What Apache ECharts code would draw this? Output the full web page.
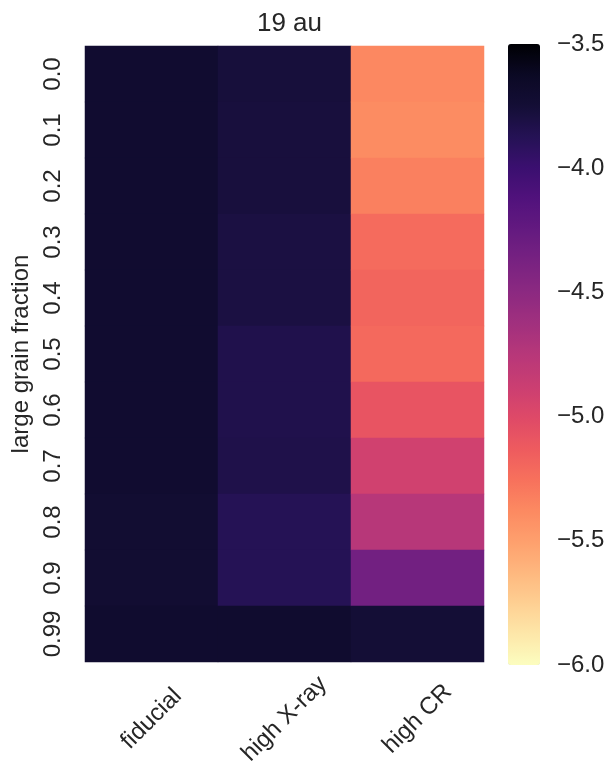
<!DOCTYPE html>
<html><head><meta charset="utf-8">
<script src="https://cdn.jsdelivr.net/npm/echarts@6/dist/echarts.min.js"></script>
<style>html,body{margin:0;padding:0;background:#fff}#c{width:611px;height:775px}</style>
</head><body><div id="c"></div>
<script>
const models = ['fiducial', 'high X-ray', 'high CR'];
const fractions = ['0.0', '0.1', '0.2', '0.3', '0.4', '0.5', '0.6', '0.7', '0.8', '0.9', '0.99'];
const fiducial = [-3.71, -3.71, -3.71, -3.71, -3.71, -3.71, -3.71, -3.71, -3.72, -3.72, -3.70];
const highXray = [-3.77, -3.78, -3.78, -3.80, -3.80, -3.84, -3.84, -3.83, -3.875, -3.875, -3.70];
const highCR   = [-5.37, -5.39, -5.33, -5.22, -5.19, -5.21, -5.08, -4.91, -4.75, -4.34, -3.75];
const colorTicks = [-6.0, -5.5, -5.0, -4.5, -4.0, -3.5];
const vMin = -6.0, vMax = -3.5;
const magma = ['#000004','#0b0924','#140e36','#251255','#3b0f70','#51127c','#641a80','#782281','#8c2981','#a1307e','#b73779','#ca3e72','#de4968','#ed5a5f','#f7705c','#fc8961','#fe9f6d','#feb77e','#fecf92','#fde7a9','#fcfdbf'];

const columns = [fiducial, highXray, highCR];
const cells = [];
columns.forEach((col, xi) => col.forEach((v, yi) => cells.push([xi, yi, v])));

const FONT = 'Liberation Sans, Arial, sans-serif';
const TXT = '#262626';
const L = 85, R = 484, T = 46, H = 616;
const CT = 44, CB = 665;

const chart = echarts.init(document.getElementById('c'), null, {renderer: 'canvas'});
chart.setOption({
  animation: false,
  backgroundColor: '#ffffff',
  title: {
    text: '19 au', left: (L + R) / 2, top: 6, textAlign: 'center',
    textStyle: {fontFamily: FONT, fontSize: 26, fontWeight: 'normal', color: TXT}
  },
  grid: [
    {left: L, top: T, width: R - L, height: H},
    {left: 508, top: CT, width: 32, height: CB - CT}
  ],
  xAxis: [
    {
      type: 'category', data: models, gridIndex: 0,
      axisLine: {show: false}, axisTick: {show: false}, splitLine: {show: false},
      axisLabel: {interval: 0, rotate: 45, align: 'center', verticalAlign: 'middle', margin: 57,
        fontFamily: FONT, fontSize: 24, color: TXT}
    },
    {type: 'value', gridIndex: 1, show: false, min: 0, max: 1}
  ],
  yAxis: [
    {
      type: 'category', data: fractions, inverse: true, gridIndex: 0,
      axisLine: {show: false}, axisTick: {show: false}, splitLine: {show: false},
      axisLabel: {interval: 0, rotate: 90, margin: 20, fontFamily: FONT, fontSize: 24, color: TXT},
      name: 'large grain fraction', nameLocation: 'middle', nameRotate: 90, nameGap: 52,
      nameTextStyle: {fontFamily: FONT, fontSize: 24, color: TXT}
    },
    {
      type: 'value', gridIndex: 1, position: 'right', min: vMin, max: vMax, interval: 0.5,
      axisLine: {show: false}, axisTick: {show: false}, splitLine: {show: false},
      axisLabel: {
        margin: 17, fontFamily: FONT, fontSize: 24, color: TXT,
        formatter: v => colorTicks.some(t => Math.abs(t - v) < 1e-9) ? (v < 0 ? '\u2212' : '') + Math.abs(v).toFixed(1) : ''
      }
    }
  ],
  visualMap: {
    type: 'continuous', min: vMin, max: vMax, seriesIndex: 0,
    calculable: false, show: true, left: 508, top: CT, itemWidth: 32, itemHeight: CB - CT,
    padding: 0, text: null, showLabel: false,
    inRange: {color: magma.slice().reverse()}
  },
  series: [
    {type: 'heatmap', xAxisIndex: 0, yAxisIndex: 0, data: cells, itemStyle: {borderWidth: 0}, emphasis: {disabled: true}},
    {type: 'scatter', xAxisIndex: 1, yAxisIndex: 1, data: [], silent: true}
  ]
});
</script></body></html>
